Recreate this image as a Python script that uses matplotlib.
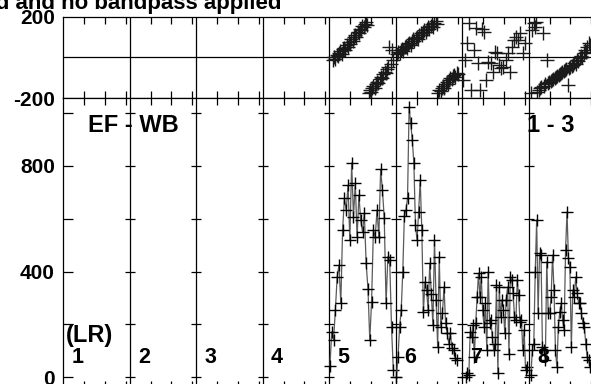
import matplotlib.pyplot as plt
import numpy as np

plt.rcParams['font.family'] = ['Liberation Sans', 'DejaVu Sans']
plt.rcParams['font.weight'] = 'bold'

seg_width = 3.2
n_seg = 8
seg_labels = ['1', '2', '3', '4', '5', '6', '7', '8']

# amplitude per segment (only 5..8 carry data)
amp5 = [43, 172, 141, 254, 380, 424, 280, 557, 677, 632, 727, 519, 811, 607, 733, 531,
        689, 595, 550, 620, 431, 336, 141, 286, 557, 531, 632, 531, 786, 708, 601, 280,
        456, 443, 191, 28]
amp6 = [0, 78, 191, 254, 399, 610, 632, 677, 1022, 961, 897, 809, 576, 519, 626, 746,
        557, 248, 361, 330, 254, 431, 317, 198, 519, 292, 116, 456, 191, 242, 342, 204,
        166, 128, 166, 110, 103, 72, 65]
amp7 = [2, 15, 9, 171, 154, 198, 77, 205, 304, 394, 305, 379, 254, 191, 280, 103, 398,
        205, 216, 152, 103, 128, 349, 15, 342, 229, 291, 254, 167, 292, 342, 90, 380,
        368, 318, 229, 216, 368, 310, 209, 217, 103, 179, 27, 40]
amp8 = [9, 103, 128, 398, 595, 243, 469, 462, 116, 103, 65, 437, 242, 243, 304, 462,
        330, 103, 40, 190, 248, 280, 216, 178, 481, 625, 450, 418, 115, 330, 304, 379,
        318, 280, 280, 243, 204, 190, 128, 77, 65, 38]

# phase per segment
phase5 = [-15, 2, -8, 12, 5, 22, 30, 18, 40, 48, 35, 60, 52, 75, 68, 88, 80, 100, 112,
          98, 125, 118, 140, 132, 155, 148, 165, 175, 160, -172, -160, -168, -150, -140,
          -148, -128, -118, -125, -105, -95, -100, -82, -70, -78, -55, -45, 50, -30, 35, -15]
phase6 = [15, 28, 22, 35, 42, 30, 50, 58, 48, 65, 72, 62, 80, 88, 78, 95, 102, 92, 110,
          118, 108, 125, 132, 122, 140, 148, 138, 155, 162, 150, 170, 178, 165, -172, -160,
          -165, -150, -140, -148, -132, -122, -128, -112, -100, -108, -92, -85, -95, -78, -82]
phase7 = [-110, -13, 70, 168, -160, 36, 143, -29, -160, 140, 124, -111, -23, -28, -70, 26,
          20, -38, -53, -45, -13, 20, -70, 51, 85, 100, 85, 120, 20, 70]
phase8 = [-176, 134, 167, 150, 175, -170, -160, -150, -143, 120, -138, -130, -13, -125,
          -120, -115, -110, -105, -100, -95, -90, -85, -80, -78, -70, -65, -60, -55, -135,
          -50, -45, -40, -35, -25, -30, -15, -20, -5, 5, 0, 20, 35, 28, 50, 69, 60]

amp_data = {5: amp5, 6: amp6, 7: amp7, 8: amp8}
phase_data = {5: phase5, 6: phase6, 7: phase7, 8: phase8}
# time span covered inside each segment
amp_span = {5: (0.03, 3.08), 6: (0.03, 2.93), 7: (0.18, 3.11), 8: (0.10, 2.95)}
phase_span = {5: (0.18, 3.07), 6: (0.06, 2.99), 7: (0.03, 3.00), 8: (0.10, 2.95)}

fig = plt.figure(figsize=(5.91, 3.84), dpi=100)
ax_top = fig.add_axes([0.1071, 0.744, 0.9002, 0.213])
ax = fig.add_axes([0.1071, -0.0104, 0.9002, 0.7544])

x_max = n_seg * seg_width
minor = [s * seg_width + k for s in range(n_seg) for k in (1, 2, 3)]

for a in (ax_top, ax):
    a.set_xlim(0, x_max)
    a.set_xticks(minor)
    a.set_xticklabels([])
    a.tick_params(axis='x', which='both', direction='in', top=True, bottom=True,
                  length=5, width=0.9)
    for k in range(1, n_seg):
        a.axvline(k * seg_width, color='k', lw=0.9)
    for sp in a.spines.values():
        sp.set_linewidth(0.9)

# top panel: phase
ax_top.set_ylim(-200, 200)
ax_top.set_yticks([-200, 200])
ax_top.set_yticklabels(['-200', '200'], fontsize=15, fontweight='bold')
ax_top.tick_params(axis='y', length=0, pad=6)
ax_top.axhline(0, color='k', lw=0.9)
for s, vals in phase_data.items():
    a0, a1 = phase_span[s]
    x = (s - 1) * seg_width + np.linspace(a0, a1, len(vals))
    ax_top.plot(x, vals, ls='none', marker='+', ms=10.5, mew=1.0, color='#1a1a1a')

# bottom panel: amplitude
y_ticks = [0, 200, 400, 600, 800, 1000]
ax.set_ylim(-40, 1055)
ax.set_yticks(y_ticks)
ax.set_yticklabels(['0', '', '400', '', '800', ''], fontsize=15, fontweight='bold')
ax.tick_params(axis='y', direction='in', length=7, width=0.9, pad=6)
for k in range(1, n_seg):
    ax.plot([k * seg_width] * len(y_ticks), y_ticks, ls='none', marker='_',
            ms=7, mew=0.9, color='k')
for s, vals in amp_data.items():
    a0, a1 = amp_span[s]
    x = (s - 1) * seg_width + np.linspace(a0, a1, len(vals))
    ax.plot(x, vals, color='#5a5a5a', lw=0.9, marker='+', ms=9, mew=1.0, mec='k')

ax.text(1.19, 954, 'EF - WB', fontsize=17, fontweight='bold', va='center')
ax.text(22.3, 954, '1 - 3', fontsize=17, fontweight='bold', va='center')
ax.text(0.13, 160, '(LR)', fontsize=17, fontweight='bold', va='center')
for s, lab in enumerate(seg_labels):
    ax.text(s * seg_width + 0.4, 77, lab, fontsize=15.5, fontweight='bold', va='center')

fig.text(282 / 591, 1 - 9.5 / 384, 'Trend removed and no bandpass applied',
         ha='right', va='baseline', fontsize=16, fontweight='bold')

fig.savefig('out.png', dpi=100)
